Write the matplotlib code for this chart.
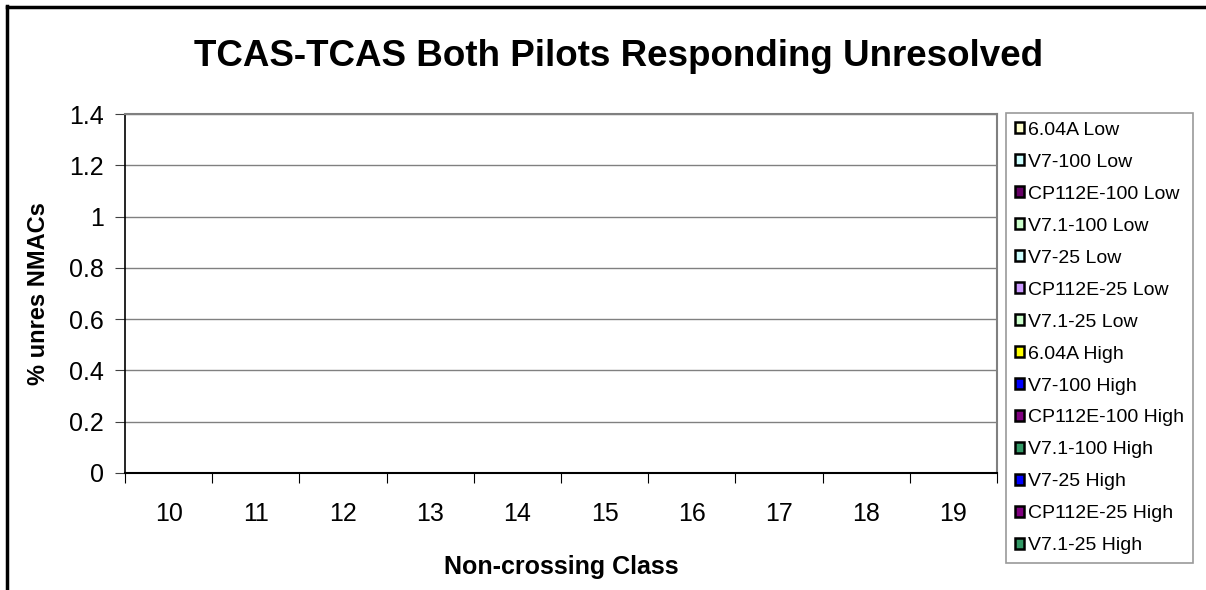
import numpy as np
import matplotlib
matplotlib.use("Agg")
from matplotlib import pyplot as plt
from matplotlib.lines import Line2D

plt.rcParams['font.family'] = ['Liberation Sans', 'DejaVu Sans']

categories = ['10', '11', '12', '13', '14', '15', '16', '17', '18', '19']
series_names = [
    '6.04A Low', 'V7-100 Low', 'CP112E-100 Low', 'V7.1-100 Low',
    'V7-25 Low', 'CP112E-25 Low', 'V7.1-25 Low',
    '6.04A High', 'V7-100 High', 'CP112E-100 High', 'V7.1-100 High',
    'V7-25 High', 'CP112E-25 High', 'V7.1-25 High',
]
series_colors = [
    '#FFFFCC', '#CCFFFF', '#660066', '#CCFFCC',
    '#CCFFFF', '#CC99FF', '#CCFFCC',
    '#FFFF00', '#0000FF', '#800080', '#339966',
    '#0000FF', '#800080', '#339966',
]
# every series is zero in every class (nothing unresolved)
values = [[0.0] * len(categories) for _ in series_names]

fig = plt.figure(figsize=(12.06, 5.9), dpi=100)
ax = fig.add_axes([125 / 1206, 1 - 473 / 590, (997 - 125) / 1206, (473 - 114) / 590])

n = len(series_names)
x = np.arange(len(categories))
width = 0.8 / n
for i, (name, col, vals) in enumerate(zip(series_names, series_colors, values)):
    ax.bar(x - 0.4 + width * (i + 0.5), vals, width, color=col,
           edgecolor='black', linewidth=0.8, label=name)

ax.set_xlim(-0.5, len(categories) - 0.5)
ax.set_ylim(0, 1.4)
yt = np.arange(0, 1.41, 0.2)
ax.set_yticks(yt)
ax.set_yticklabels(['0', '0.2', '0.4', '0.6', '0.8', '1', '1.2', '1.4'], fontsize=18)
ax.yaxis.grid(True, color='#808080', linewidth=1)
ax.set_axisbelow(True)

ax.set_xticks(np.arange(-0.5, len(categories), 1.0))
ax.set_xticklabels([])
ax.set_xticks(x, minor=True)
ax.set_xticklabels(categories, minor=True, fontsize=18)
ax.tick_params(axis='x', which='major', length=7, direction='out', color='black')
ax.tick_params(axis='x', which='minor', length=0, pad=21)
ax.tick_params(axis='y', length=7, direction='out', color='#404040', pad=8)

ax.spines['top'].set_color('#808080')
ax.spines['right'].set_color('#808080')
ax.spines['top'].set_linewidth(1.5)
ax.spines['right'].set_linewidth(1.5)
ax.spines['left'].set_linewidth(1.2)
ax.spines['bottom'].set_linewidth(1.5)

ax.set_xlabel('Non-crossing Class', fontsize=18, fontweight='bold', labelpad=21)
ax.set_ylabel('% unres NMACs', fontsize=17, fontweight='bold', labelpad=14)
fig.text(0.5 * (188 + 1050) / 1206, 1 - 57 / 590, 'TCAS-TCAS Both Pilots Responding Unresolved',
         fontsize=26.5, fontweight='bold', ha='center', va='center')

leg_handles = [plt.Rectangle((0, 0), 1, 1, facecolor=c, edgecolor='black', linewidth=1.8)
               for c in series_colors]
leg = fig.legend(leg_handles, series_names, loc='upper left',
                 bbox_to_anchor=(1006 / 1206, 1 - 113 / 590), fontsize=14,
                 frameon=True, fancybox=False, edgecolor='#808080',
                 handlelength=0.5, handleheight=0.5, handletextpad=0.2,
                 labelspacing=0.77, borderpad=0.45, borderaxespad=0)
leg.get_frame().set_linewidth(1.2)

# chart-area border (only left and top visible)
fig.add_artist(Line2D([6.5 / 1206, 6.5 / 1206], [0, 1 - 6 / 590], color='black', linewidth=2.5,
                      transform=fig.transFigure))
fig.add_artist(Line2D([6.5 / 1206, 1], [1 - 6.5 / 590, 1 - 6.5 / 590], color='black', linewidth=2.5,
                      transform=fig.transFigure))

fig.savefig('out.png', dpi=100)
